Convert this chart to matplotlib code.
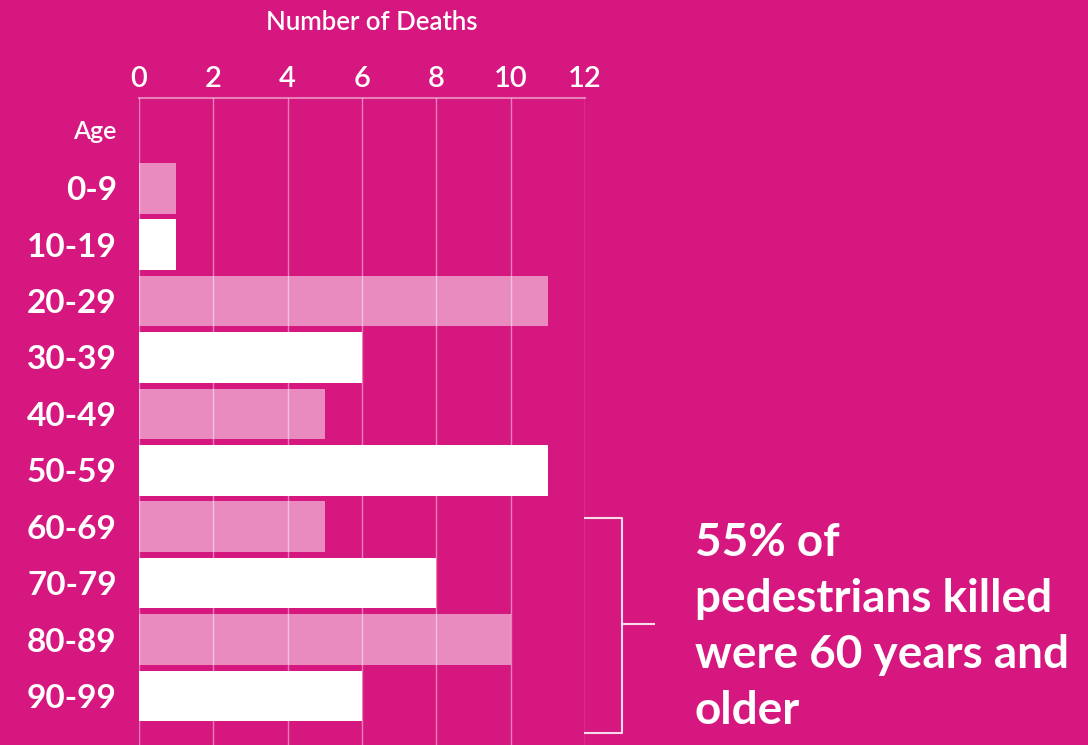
import matplotlib
matplotlib.use("Agg")
import matplotlib.pyplot as plt

# data
ages = ["0-9", "10-19", "20-29", "30-39", "40-49",
        "50-59", "60-69", "70-79", "80-89", "90-99"]
deaths = [1, 1, 11, 6, 5, 11, 5, 8, 10, 6]
xticks = [0, 2, 4, 6, 8, 10, 12]
note_lines = ["55% of", "pedestrians killed", "were 60 years and", "older"]

BG = "#D5177F"
plt.rcParams["font.family"] = ["Lato", "DejaVu Sans"]

fig = plt.figure(figsize=(10.88, 7.45), dpi=100, facecolor=BG)
W, H = 1088, 745

# axes: x=0 at 139px, x=12 at 585px, top at 98px, runs off the bottom
ax = fig.add_axes([139 / W, 0, (585 - 139) / W, (H - 98) / H])
ax.set_facecolor(BG)

rows = list(range(len(ages)))
colors = ["white" if i % 2 else (1, 1, 1, 0.5) for i in rows]
ax.barh(rows, deaths, height=0.9, color=colors, zorder=1)

ax.set_xlim(0, 12)
ax.set_ylim(9.87, -1.6)

# vertical grid lines drawn over the bars
for x in xticks:
    ax.axvline(x, color="white", lw=1, alpha=0.45, zorder=3)
ax.axhline(-1.6, color="white", lw=1.5, alpha=0.45, zorder=3, clip_on=False)

for s in ax.spines.values():
    s.set_visible(False)

ax.xaxis.tick_top()
ax.set_xticks(xticks)
ax.set_xticklabels([str(x) for x in xticks], fontsize=21, color="white",
                   fontweight="semibold")
ax.tick_params(axis="x", length=0, pad=4)

ax.set_yticks(rows)
ax.set_yticklabels(ages, fontsize=24, color="white", fontweight="bold")
ax.tick_params(axis="y", length=0, pad=16)

# "Age" header in the row above the first bar
ax.text(-0.62, -1, "Age", fontsize=18, color="white", fontweight="semibold",
        ha="right", va="center")

fig.text(372 / W, 1 - 22 / H, "Number of Deaths", fontsize=18.5, color="white",
         fontweight="semibold", ha="center", va="center")

# bracket around 60+ rows
bk = dict(color="white", lw=1.5, alpha=0.85, clip_on=False)
ax.plot([12, 13.0, 13.0, 12], [5.84, 5.84, 9.65, 9.65], **bk)
ax.plot([13.0, 13.86], [7.73, 7.73], **bk)

for i, line in enumerate(note_lines):
    fig.text(695 / W, 1 - (543 + 56 * i) / H, line, fontsize=33,
             color="white", fontweight="bold", ha="left", va="center")

fig.savefig("out.png", dpi=100, facecolor=BG)
